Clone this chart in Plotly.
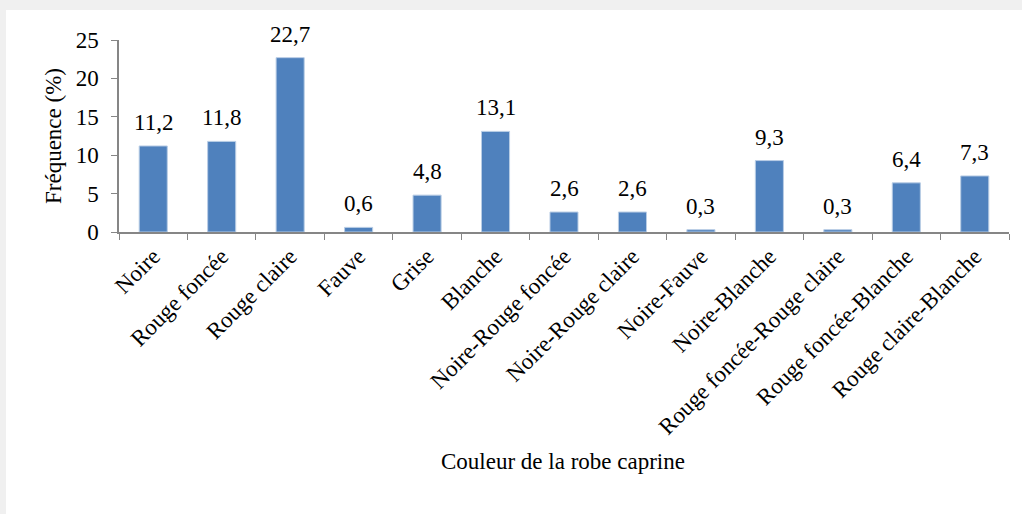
import plotly.graph_objects as go

# Données du graphique
couleurs = ["Noire", "Rouge foncée", "Rouge claire", "Fauve", "Grise", "Blanche",
            "Noire-Rouge foncée", "Noire-Rouge claire", "Noire-Fauve", "Noire-Blanche",
            "Rouge foncée-Rouge claire", "Rouge foncée-Blanche", "Rouge claire-Blanche"]
frequences = [11.2, 11.8, 22.7, 0.6, 4.8, 13.1, 2.6, 2.6, 0.3, 9.3, 0.3, 6.4, 7.3]
y_ticks = [0, 5, 10, 15, 20, 25]

police = "Liberation Serif, Times New Roman, serif"
taille = 23

fig = go.Figure(go.Bar(
    x=couleurs,
    y=frequences,
    marker=dict(color="#4f81bd", line=dict(color="#b9cde5", width=1)),
))

# étiquettes de valeurs (virgule décimale)
for c, v in zip(couleurs, frequences):
    fig.add_annotation(x=c, y=v, text=f"{v:.1f}".replace(".", ","),
                       showarrow=False, yanchor="bottom", yshift=9,
                       font=dict(family=police, size=taille, color="black"))

# Zone blanche du graphique sur fond gris
L, R, T, B = 119, 13, 40, 282
W, H = 1022 - L - R, 514 - T - B
fig.add_shape(type="rect", xref="paper", yref="paper", layer="below",
              x0=(6 - L) / W, x1=(1022 - L) / W + 0.01,
              y0=-(B + 2) / H, y1=(514 - B - 10) / H,
              fillcolor="white", line=dict(width=0))

fig.add_annotation(text="Couleur de la robe caprine", xref="paper", yref="paper",
                   x=(563 - L) / W, y=-(476 - (514 - B)) / H, showarrow=False,
                   font=dict(family=police, size=taille, color="black"))

fig.update_layout(
    width=1022, height=514,
    margin=dict(l=L, r=R, t=T, b=B, autoexpand=False),
    paper_bgcolor="#f0f0f0",
    plot_bgcolor="white",
    bargap=0.59,
    showlegend=False,
    font=dict(family=police, size=taille, color="black"),
)
fig.update_xaxes(
    tickangle=-45, tickson="boundaries", ticks="outside", ticklen=6,
    tickcolor="#868686", showline=True, linecolor="#868686", linewidth=1.5,
    tickfont=dict(family=police, size=taille, color="black"), automargin=False,
)
fig.update_yaxes(
    range=[0, 25], tickvals=y_ticks, ticks="outside", ticklen=6,
    tickcolor="#868686", showline=True, linecolor="#868686", linewidth=1.5,
    showgrid=False, zeroline=False, ticklabelstandoff=8,
    tickfont=dict(family=police, size=taille, color="black"),
    title=dict(text="Fréquence (%)", standoff=8,
               font=dict(family=police, size=taille, color="black")),
    automargin=False,
)

fig.write_html("out.html", config={"displayModeBar": False},
               post_script="document.body.style.margin='0';")
